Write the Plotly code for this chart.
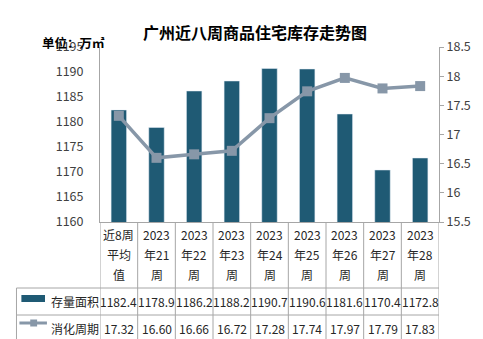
import plotly.graph_objects as go

categories = ["近8周平均值", "2023年21周", "2023年22周", "2023年23周", "2023年24周",
              "2023年25周", "2023年26周", "2023年27周", "2023年28周"]
cat_lines = [["近8周", "平均", "值"], ["2023", "年21", "周"], ["2023", "年22", "周"],
             ["2023", "年23", "周"], ["2023", "年24", "周"], ["2023", "年25", "周"],
             ["2023", "年26", "周"], ["2023", "年27", "周"], ["2023", "年28", "周"]]
stock = [1182.4, 1178.9, 1186.2, 1188.2, 1190.7, 1190.6, 1181.6, 1170.4, 1172.8]
cycle = [17.32, 16.60, 16.66, 16.72, 17.28, 17.74, 17.97, 17.79, 17.83]
series_names = ["存量面积", "消化周期"]

W, H = 483, 339
L, R, T, B = 100, 445, 47, 222
PW, PH = R - L, B - T

def px(x):
    return (x - L) / PW

def py(y):
    return (B - y) / PH

BAR = "#1f5a74"
LINE = "#8797a8"
GRID = "#a6a6a6"
TXT = "#262626"
FONT = "Noto Sans CJK SC"
FS = 12

xs = list(range(len(categories)))

fig = go.Figure()
fig.add_trace(go.Bar(x=xs, y=stock, marker_color=BAR, name=series_names[0],
                     width=0.41, yaxis="y"))
fig.add_trace(go.Scatter(x=xs, y=cycle, mode="lines+markers", name=series_names[1],
                         line=dict(color=LINE, width=3.5),
                         marker=dict(symbol="square", size=10, color=LINE),
                         yaxis="y2"))

ann = []
shapes = []

def add_text(text, x, y, xref="paper", xanchor="center", size=FS, color=TXT):
    ann.append(dict(text=text, x=x, y=y, xref=xref, yref="paper", xanchor=xanchor,
                    yanchor="middle", showarrow=False,
                    font=dict(size=size, color=color, family=FONT)))

# title and unit
add_text("<b>广州近八周商品住宅库存走势图</b>", px(258), py(32), size=16, color="#000000")
add_text("<b>单位：万㎡</b>", px(39), py(43), xanchor="left", size=12.5, color="#000000")

# category label rows
line_ys = [234, 254, 274]
for i, lines in enumerate(cat_lines):
    for j, t in enumerate(lines):
        add_text(t, i, py(line_ys[j]), xref="x")
# data rows
row1, row2 = 301, 328
for i in xs:
    add_text(f"{stock[i]:.1f}", i, py(row1), xref="x")
    add_text(f"{cycle[i]:.2f}", i, py(row2), xref="x")
add_text(series_names[0], px(48), py(row1), xanchor="left")
add_text(series_names[1], px(48), py(row2), xanchor="left")

# legend keys
shapes.append(dict(type="rect", xref="paper", yref="paper", x0=px(20), x1=px(44), y0=py(295), y1=py(302),
                   fillcolor=BAR, line=dict(width=0)))
shapes.append(dict(type="line", xref="paper", yref="paper", x0=px(18), x1=px(46), y0=py(323), y1=py(323),
                   line=dict(color=LINE, width=3)))
shapes.append(dict(type="rect", xref="paper", yref="paper", x0=px(29), x1=px(36), y0=py(319.5), y1=py(326.5),
                   fillcolor=LINE, line=dict(width=0)))

# table grid
bottom = 345
shapes.append(dict(type="line", xref="paper", yref="paper", x0=px(15), x1=px(R), y0=py(288), y1=py(288),
                   line=dict(color=GRID, width=1)))
shapes.append(dict(type="line", xref="paper", yref="paper", x0=px(15), x1=px(R), y0=py(315), y1=py(315),
                   line=dict(color=GRID, width=1)))
shapes.append(dict(type="line", xref="paper", yref="paper", x0=px(15), x1=px(15), y0=py(288), y1=py(bottom),
                   line=dict(color=GRID, width=1)))
for k in range(len(categories) + 1):
    shapes.append(dict(type="line", xref="x", yref="paper", x0=k - 0.5, x1=k - 0.5, y0=0, y1=py(bottom),
                       line=dict(color=GRID, width=1)))

fig.update_layout(
    width=W, height=H,
    margin=dict(l=L, r=W - R, t=T, b=H - B, pad=0),
    paper_bgcolor="white", plot_bgcolor="white",
    showlegend=False,
    font=dict(family=FONT, size=FS, color="#404040"),
    xaxis=dict(range=[-0.5, len(categories) - 0.5], showticklabels=False, showgrid=False,
               zeroline=False, showline=True, linecolor=GRID, linewidth=1, ticks=""),
    yaxis=dict(range=[1160, 1195], dtick=5, showgrid=False, zeroline=False,
               showline=True, linecolor=GRID, linewidth=1, ticks="",
               ticklabelstandoff=13, tickfont=dict(size=12.5, color="#404040")),
    yaxis2=dict(range=[15.5, 18.5], dtick=0.5, overlaying="y", side="right", showgrid=False,
                zeroline=False, showline=True, linecolor=GRID, linewidth=1,
                ticks="outside", ticklen=4, tickcolor=GRID,
                tickfont=dict(size=12.5, color="#404040")),
    annotations=ann, shapes=shapes,
)

fig.write_html("out.html")
